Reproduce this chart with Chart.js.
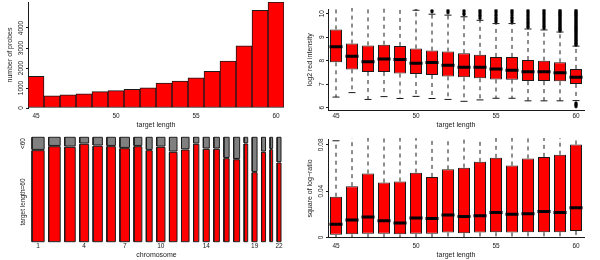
<!DOCTYPE html>
<html><head><meta charset="utf-8">
<script src="https://cdn.jsdelivr.net/npm/chart.js@4.4.1/dist/chart.umd.min.js"></script>
<style>
html,body{margin:0;padding:0;background:#fff;}
#wrap{position:relative;width:600px;height:260px;overflow:hidden;}
#wrap canvas{position:absolute;}
</style></head><body>
<div id="wrap">
<canvas id="c1" width="300" height="130" style="left:0;top:0"></canvas>
<canvas id="c2" width="300" height="130" style="left:300px;top:0"></canvas>
<canvas id="c3" width="300" height="130" style="left:0;top:130px"></canvas>
<canvas id="c4" width="300" height="130" style="left:300px;top:130px"></canvas>
</div>
<script>
// ---------------- data ----------------
const targetLengths = [45,46,47,48,49,50,51,52,53,54,55,56,57,58,59,60];
const lengthTicks = [45,50,55,60];

// panel 1: number of probes per target length
const probeCounts = [1580,610,660,710,820,870,930,1010,1240,1340,1510,1830,2340,3110,4880,5300];
const countTicks = [0,1000,2000,3000,4000];

// panel 2: log2 red intensity boxplots
const redLow    = [6.45,6.64,6.35,6.47,6.39,6.48,6.39,6.35,6.27,6.33,6.40,6.40,6.29,6.29,6.29,6.30];
const redQ1     = [7.93,7.63,7.52,7.52,7.45,7.43,7.39,7.33,7.29,7.25,7.20,7.19,7.13,7.13,7.12,7.01];
const redMedian = [8.59,8.19,7.96,8.07,8.05,7.89,7.92,7.81,7.72,7.72,7.65,7.59,7.53,7.53,7.49,7.29];
const redQ3     = [9.33,8.73,8.65,8.68,8.63,8.52,8.43,8.39,8.32,8.25,8.16,8.16,8.03,8.00,7.93,7.65];
const redHigh   = [10.3,10.3,10.3,10.3,10.3,10.15,9.98,9.94,9.87,9.72,9.58,9.58,9.35,9.31,9.22,8.62];
const redOutliers = [
  [],[],[],[],[],
  [10.2],
  [10.08,10.15],
  [10.04,10.11,10.17],
  [9.96,10.02,10.09,10.16],
  [9.80,9.87,9.93,9.99,10.06,10.12,10.17],
  [9.65,9.71,9.78,9.84,9.91,9.97,10.04,10.11,10.17],
  [9.65,9.72,9.79,9.85,9.92,9.99,10.06,10.12,10.17],
  [9.41,9.46,9.52,9.58,9.63,9.69,9.75,9.81,9.87,9.93,9.99,10.05,10.11,10.17],
  [9.37,9.43,9.48,9.54,9.60,9.66,9.72,9.78,9.84,9.90,9.96,10.02,10.08,10.14,10.18],
  [9.26,9.30,9.34,9.38,9.42,9.46,9.50,9.54,9.58,9.62,9.66,9.70,9.74,9.78,9.82,9.86,9.90,9.94,9.98,10.02,10.06,10.10,10.14,10.18],
  [8.66,8.70,8.74,8.78,8.82,8.86,8.90,8.94,8.98,9.02,9.06,9.10,9.14,9.18,9.22,9.26,9.30,9.34,9.38,9.42,9.46,9.50,9.54,9.58,9.62,9.66,9.70,9.74,9.78,9.82,9.86,9.90,9.94,9.98,10.02,10.06,10.10,10.14,10.18,6.20,6.15,6.10,6.04]
];
const intensityTicks = [6,7,8,9,10];

// panel 3: spineplot of target length by chromosome
const chromosomes = ['1','2','3','4','5','6','7','8','9','10','11','12','13','14','15','16','17','18','19','20','21','22'];
const chromProbes = [1220,1160,1060,890,930,860,960,790,590,830,760,760,530,600,560,530,600,360,490,400,260,390];
const fracLen60   = [0.872,0.910,0.904,0.933,0.914,0.910,0.891,0.910,0.872,0.904,0.856,0.878,0.933,0.885,0.885,0.795,0.785,0.936,0.661,0.856,0.881,0.754];
const chromTickLabels = ['1','4','7','10','14','19','22'];
const spineYTicks  = [0.38,0.94];
const spineYLabels = ['target length=60','<60'];

// panel 4: square of log-ratio boxplots
const sqLow    = [0,0,0,0,0,0,0,0,0,0,0,0,0,0,0,0];
const sqQ1     = [0.0024,0.0027,0.0032,0.0032,0.0027,0.0032,0.0032,0.0043,0.0037,0.0043,0.0045,0.0043,0.0045,0.0045,0.0045,0.0056];
const sqMedian = [0.0115,0.0152,0.0176,0.0144,0.0125,0.0168,0.0163,0.0195,0.0181,0.0187,0.0216,0.0200,0.0205,0.0224,0.0216,0.0256];
const sqQ3     = [0.0352,0.0443,0.0552,0.0475,0.0483,0.0560,0.0523,0.0589,0.0603,0.0653,0.0688,0.0621,0.0683,0.0696,0.0715,0.0803];
const sqHigh   = [0.0835,0.107,0.133,0.114,0.117,0.135,0.126,0.141,0.145,0.157,0.165,0.149,0.164,0.167,0.172,0.192];
const ratioTicks = [0,0.04,0.08];

// ---------------- style ----------------
const INK = '#1a1a1a';
const RED = '#ff0000';
const GREY = '#808080';
const TICK_FONT = {size: 6.5};
const TITLE_FONT = {size: 7};
Chart.defaults.font.family = "'Liberation Sans', Arial, Helvetica, sans-serif";
Chart.defaults.color = INK;

function xAxis(o) {
  return {
    type: 'linear', min: o.min, max: o.max, offset: false,
    afterFit(s) { s.height = o.height; },
    afterBuildTicks(s) { s.ticks = o.ticks.map(v => ({value: v})); },
    grid: {display: false, drawTicks: false},
    border: {display: o.line, color: INK, width: 1},
    ticks: {font: TICK_FONT, color: INK, padding: o.pad, maxRotation: 0, minRotation: 0, autoSkip: false,
            callback: (v, i) => o.labels ? o.labels[i] : String(v)},
    title: {display: true, text: o.title, font: TITLE_FONT, color: INK, padding: {top: 0, bottom: 0.5}}
  };
}
function yAxis(o) {
  return {
    type: 'linear', min: o.min, max: o.max,
    afterFit(s) { s.width = o.width; },
    afterBuildTicks(s) { s.ticks = o.ticks.map(v => ({value: v})); },
    grid: {display: o.tickLen > 0, drawOnChartArea: false, drawTicks: o.tickLen > 0, tickLength: o.tickLen, color: INK},
    border: {display: o.line, color: INK, width: 1},
    ticks: {font: TICK_FONT, color: INK, padding: o.pad, minRotation: 90, maxRotation: 90, crossAlign: 'center', autoSkip: false,
            callback: (v, i) => o.labels ? o.labels[i] : String(v)},
    title: {display: !!o.title, text: o.title || '', font: TITLE_FONT, color: INK, padding: {top: 5.8, bottom: 0}}
  };
}
function opts(padding, x, y) {
  return {
    responsive: false, animation: false, devicePixelRatio: 1, events: [],
    layout: {padding},
    plugins: {legend: {display: false}, tooltip: {enabled: false}},
    scales: {x, y}
  };
}

// boxplot datasets built from arrays; whisker lines are cut just above the visible range
function boxDatasets(low, q1, med, q3, high, outliers, yMin, yMax) {
  const cut = yMax + 0.015 * (yMax - yMin);
  const caps = [];
  const whisk = [];
  targetLengths.forEach((x, i) => {
    caps.push({x, y: high[i]}, {x, y: low[i]});
    whisk.push({x, y: q3[i]}, {x, y: Math.min(high[i], cut)}, {x, y: null},
               {x, y: q1[i]}, {x, y: low[i]}, {x, y: null});
  });
  const outs = [];
  if (outliers) targetLengths.forEach((x, i) => outliers[i].forEach(y => outs.push({x, y})));
  return [
    {type: 'line', data: targetLengths.map((x, i) => ({x, y: med[i]})), showLine: false,
     pointStyle: 'line', pointRadius: 6.5, pointBorderWidth: 3, pointBorderColor: '#000', pointBackgroundColor: '#000'},
    {type: 'line', data: caps, showLine: false,
     pointStyle: 'line', pointRadius: 3.5, pointBorderWidth: 1, pointBorderColor: INK},
    {type: 'line', data: outs, showLine: false,
     pointStyle: 'circle', pointRadius: 1.3, pointBorderWidth: 0.6, pointBorderColor: '#000', pointBackgroundColor: '#000'},
    {type: 'bar', data: targetLengths.map((x, i) => ({x, y: [q1[i], q3[i]]})),
     backgroundColor: RED, borderColor: INK, borderWidth: 1, borderSkipped: false,
     barPercentage: 0.75, categoryPercentage: 1},
    {type: 'line', data: whisk, showLine: true, spanGaps: false, borderColor: INK, borderWidth: 1,
     borderDash: [4, 4], pointRadius: 0, fill: false, clip: false}
  ];
}

// ---------------- panel 1 ----------------
new Chart(document.getElementById('c1'), {
  type: 'bar',
  data: {datasets: [{
    data: targetLengths.map((x, i) => ({x, y: probeCounts[i]})),
    backgroundColor: RED, borderColor: INK, borderWidth: 1, borderSkipped: false,
    barPercentage: 1, categoryPercentage: 1
  }]},
  options: opts({left: 0, right: 16, top: 2, bottom: 0},
    xAxis({min: 44.5, max: 60.5, height: 22, ticks: lengthTicks, pad: 4.8, line: false, title: 'target length'}),
    yAxis({min: 0, max: 5300, width: 28, ticks: countTicks, tickLen: 2, pad: -2.9, line: true, title: 'number of probes'}))
});

// ---------------- panel 2 ----------------
new Chart(document.getElementById('c2'), {
  type: 'line',
  data: {datasets: boxDatasets(redLow, redQ1, redMedian, redQ3, redHigh, redOutliers, 5.9, 10.18)},
  options: opts({left: 0, right: 16, top: 3, bottom: 0},
    xAxis({min: 44.5, max: 60.5, height: 20, ticks: lengthTicks, pad: 2.8, line: true, title: 'target length'}),
    yAxis({min: 5.9, max: 10.18, width: 28, ticks: intensityTicks, tickLen: 2, pad: 0.4, line: true, title: 'log2 red intensity'}))
});

// ---------------- panel 3 ----------------
const totalProbes = chromProbes.reduce((a, b) => a + b, 0);
const SPINE_GAP = 0.029 * totalProbes;
const V_GAP = 0.012;
let cursor = 0;
const spans = chromProbes.map(n => { const s = [cursor, cursor + n]; cursor += n + SPINE_GAP; return s; });
const spineMax = cursor - SPINE_GAP;
const redTops = [], greyBottoms = [], outline = [];
spans.forEach(([a, b], i) => {
  const f = fracLen60[i];
  redTops.push({x: a, y: f}, {x: b, y: f}, {x: b, y: null});
  greyBottoms.push({x: a, y: f + V_GAP}, {x: b, y: f + V_GAP}, {x: b, y: null});
  outline.push({x: a, y: 0}, {x: b, y: 0}, {x: b, y: f}, {x: a, y: f}, {x: a, y: 0}, {x: a, y: null});
  outline.push({x: a, y: f + V_GAP}, {x: b, y: f + V_GAP}, {x: b, y: 1}, {x: a, y: 1}, {x: a, y: f + V_GAP}, {x: a, y: null});
});
const chromTickPos = chromTickLabels.map(l => { const s = spans[chromosomes.indexOf(l)]; return (s[0] + s[1]) / 2; });

new Chart(document.getElementById('c3'), {
  type: 'line',
  data: {datasets: [
    {data: outline, borderColor: INK, borderWidth: 1, pointRadius: 0, spanGaps: false, fill: false, clip: false},
    {data: redTops, borderColor: 'rgba(0,0,0,0)', borderWidth: 1, backgroundColor: RED, pointRadius: 0, spanGaps: false, fill: 'origin'},
    {data: greyBottoms, borderColor: 'rgba(0,0,0,0)', borderWidth: 1, backgroundColor: GREY, pointRadius: 0, spanGaps: false, fill: 'end'}
  ]},
  options: opts({left: 0, right: 19, top: 7.3, bottom: 0},
    xAxis({min: 0, max: spineMax, height: 18.3, ticks: chromTickPos, labels: chromTickLabels, pad: 1.1, line: false, title: 'chromosome'}),
    yAxis({min: 0, max: 1, width: 32, ticks: spineYTicks, labels: spineYLabels, tickLen: 0, pad: -14.9, line: false}))
});

// ---------------- panel 4 ----------------
new Chart(document.getElementById('c4'), {
  type: 'line',
  data: {datasets: boxDatasets(sqLow, sqQ1, sqMedian, sqQ3, sqHigh, null, 0, 0.0846)},
  options: opts({left: 0, right: 16, top: 1.7, bottom: 0},
    xAxis({min: 44.5, max: 60.5, height: 22.5, ticks: lengthTicks, pad: 5.3, line: true, title: 'target length'}),
    yAxis({min: 0, max: 0.0846, width: 28, ticks: ratioTicks, tickLen: 2, pad: -2, line: true, title: 'square of log\u2212ratio'}))
});
</script>
</body></html>
